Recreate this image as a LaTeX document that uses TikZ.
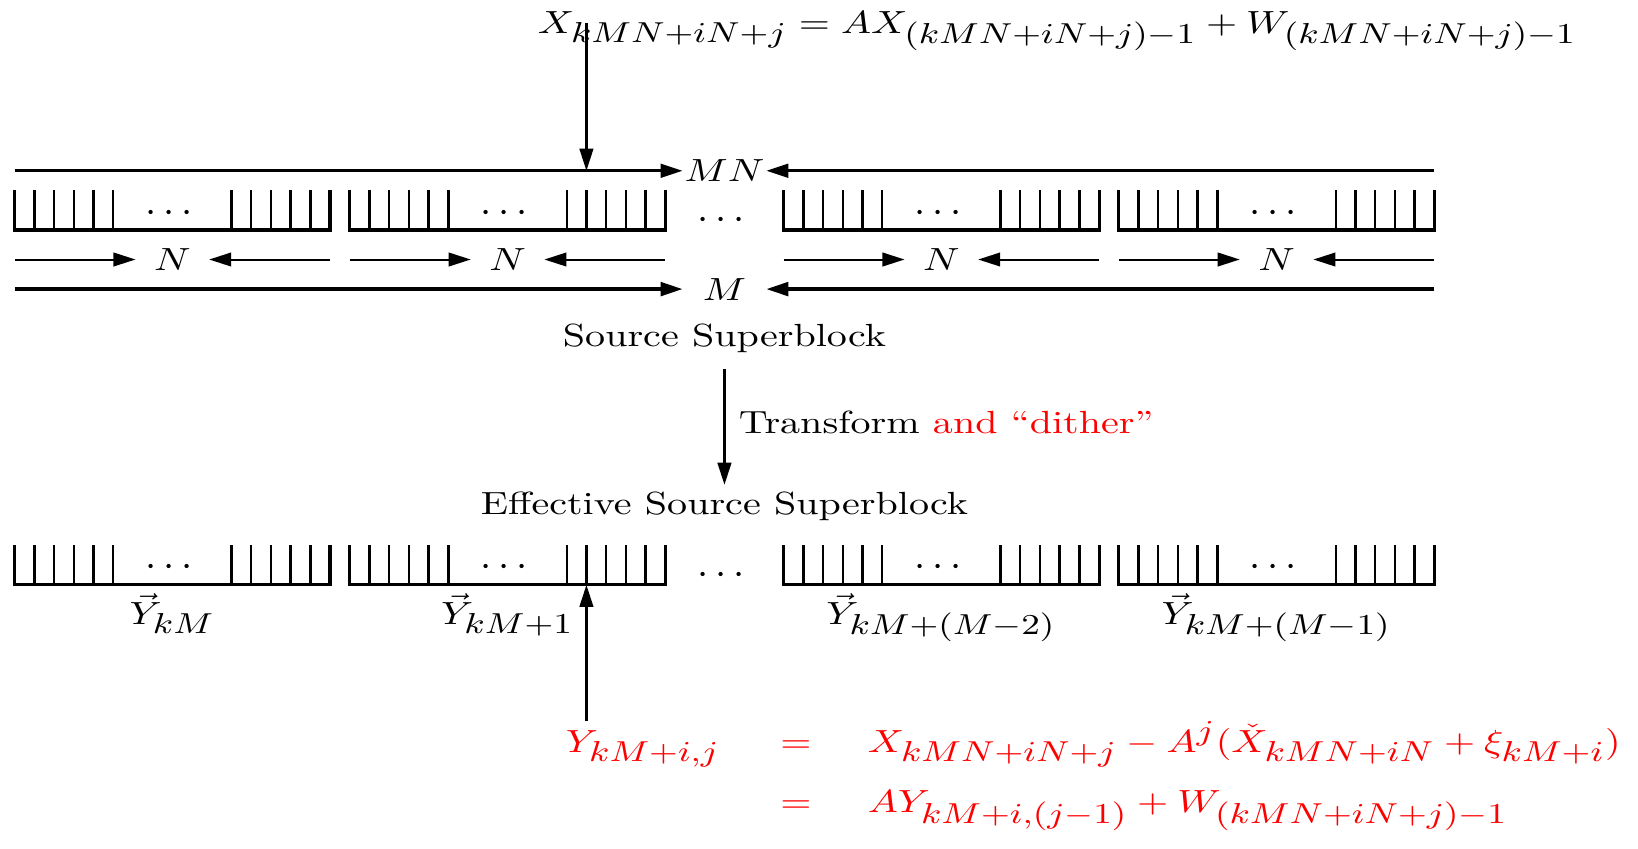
\RequirePackage{fix-cm}
\documentclass[tikz,border=0pt]{standalone}
\usepackage{amsmath,amssymb}
\usepackage{tikz}
\usetikzlibrary{arrows.meta}
\DeclareMathSizes{10}{10}{9}{7}
\newcommand{\sqz}[1]{\scalebox{1}[0.8]{#1}}

\begin{document}
\begin{tikzpicture}[
  x=1.73mm, y=1.73mm,
  font=\normalsize,
  >={Triangle[length=5.5pt,width=3.4pt]},
  blkframe/.style={draw=black, line width=0.8pt},
  blktick/.style={draw=black, line width=0.6pt},
  spanmap/.style={->, draw=black, line width=0.5pt},
  widemap/.style={->, draw=black, line width=0.75pt},
  flowmap/.style={->, draw=black, line width=0.55pt},
  spanlbl/.style={inner sep=0pt, minimum width=18pt},
  widelbl/.style={inner sep=0pt, minimum width=20.5pt},
  redeq/.style={inner sep=0pt, text=red}
]
  \useasboundingbox (-0.74,-31.36) rectangle (82.33,11.66);

  \node[anchor=base west, inner sep=0pt] (xrec) at (26.5,9.97) {\sqz{$X_{kMN+iN+j} = AX_{(kMN+iN+j)-1} + W_{(kMN+iN+j)-1}$}};
  \coordinate (xin) at (29,10.5);

  \coordinate (mnl) at (0,3);
  \coordinate (mnr) at (72,3);
  \node[widelbl] (mn) at (36,3) {\sqz{$MN$}};
  \draw[widemap] (mnl) -- (mn);
  \draw[widemap] (mnr) -- (mn);
  \draw[flowmap] (xin) -- (xin |- mnl);

  \foreach \bx/\bn in {0/a,17/b,39/c,56/d}{
    \draw[blkframe] (\bx,2) -- (\bx,0) -- (\bx+16,0) -- (\bx+16,2);
    \foreach \t in {1,2,3,4,5,11,12,13,14,15}
      \draw[blktick] (\bx+\t,0) -- (\bx+\t,2);
    \node[anchor=base, inner sep=0pt] (tdots\bn) at (\bx+8,0.4) {$\cdots$};
    \node[spanlbl] (n\bn) at (\bx+8,-1.5) {\sqz{$N$}};
    \coordinate (nl\bn) at (\bx,-1.5);
    \coordinate (nr\bn) at (\bx+16,-1.5);
    \draw[spanmap] (nl\bn) -- (n\bn);
    \draw[spanmap] (nr\bn) -- (n\bn);
  }
  \node[anchor=base, inner sep=0pt] (tmid) at (36,0) {$\cdots$};

  \coordinate (ml) at (0,-3);
  \coordinate (mr) at (72,-3);
  \node[widelbl] (m) at (36,-3) {\sqz{$M$}};
  \draw[widemap, line width=0.85pt] (ml) -- (m);
  \draw[widemap, line width=0.85pt] (mr) -- (m);

  \node[inner sep=1.5pt] (srcsb) at (36,-5.5) {\sqz{Source Superblock}};
  \node[inner sep=1.5pt] (effsb) at (36,-14) {\sqz{Effective Source Superblock}};
  \draw[flowmap, shorten <=2.4pt] (srcsb) -- (effsb)
    node[midway, right] (xform) {\sqz{Transform \textcolor{red}{and ``dither''}}};

  \foreach \bx/\bn/\sub in {0/a/{kM},17/b/{kM+1},39/c/{kM+(M-2)},56/d/{kM+(M-1)}}{
    \draw[blkframe] (\bx,-16) -- (\bx,-18) -- (\bx+16,-18) -- (\bx+16,-16);
    \foreach \t in {1,2,3,4,5,11,12,13,14,15}
      \draw[blktick] (\bx+\t,-18) -- (\bx+\t,-16);
    \node[anchor=base, inner sep=0pt] (bdots\bn) at (\bx+8,-17.6) {$\cdots$};
    \node[anchor=base, inner sep=0pt] (yv\bn) at (\bx+8,-20) {\sqz{$\vec{Y}_{\sub}$}};
  }
  \node[anchor=base, inner sep=0pt] (bmid) at (36,-18) {$\cdots$};

  \coordinate (bhit) at (29,-18);
  \coordinate (yout) at (29,-24.9);
  \draw[flowmap] (yout) -- (bhit);

  \node[redeq, anchor=base west] (ylhs) at (27.92,-26.5) {\sqz{$Y_{kM+i,j}$}};
  \node[redeq, anchor=base] (eqa) at (39.63,-26.5) {\sqz{$=$}};
  \node[redeq, anchor=base west] (rhsa) at (43.23,-26.5) {\sqz{$X_{kMN+iN+j} - A^{j}(\check{X}_{kMN+iN} + \xi_{kM+i})$}};
  \node[redeq, anchor=base] (eqb) at (39.63,-29.56) {\sqz{$=$}};
  \node[redeq, anchor=base west] (rhsb) at (43.23,-29.56) {\sqz{$AY_{kM+i,(j-1)} + W_{(kMN+iN+j)-1}$}};
\end{tikzpicture}
\end{document}
